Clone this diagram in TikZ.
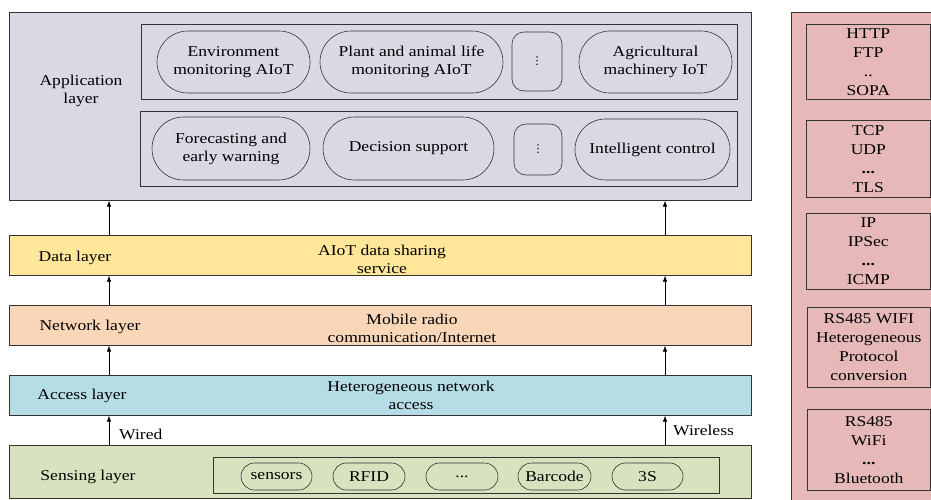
\documentclass[tikz,border=0pt]{standalone}
\usepackage{fontspec}
\setmainfont{Liberation Serif}[FakeStretch=1.17]
\newfontfamily\dejavu{DejaVu Sans}
\usetikzlibrary{shapes.misc,arrows.meta}
\definecolor{appc}{HTML}{DCD7E5}
\definecolor{datac}{HTML}{FFE699}
\definecolor{netc}{HTML}{FAD6B8}
\definecolor{accc}{HTML}{B6DCE6}
\definecolor{senc}{HTML}{D7E3BE}
\definecolor{protc}{HTML}{E6B9B8}
\definecolor{linec}{HTML}{333333}
\begin{document}
\begin{tikzpicture}[x=1pt,y=-1pt,
  every node/.style={font=\fontsize{15}{18}\selectfont, inner sep=0pt, text=black},
  box/.style={draw=linec, line width=0.7pt, rectangle, anchor=north west},
  pill/.style={draw=linec, line width=0.6pt, rounded rectangle, rounded rectangle arc length=180, align=center},
  dotbox/.style={draw=linec, line width=0.6pt, rectangle, rounded corners=12pt, font=\dejavu\fontsize{11}{12}\selectfont},
  protbox/.style={draw=linec, line width=0.6pt, rectangle, anchor=north west, align=center,
                  font=\fontsize{15}{19}\selectfont},
  lbl/.style={align=center},
  arr/.style={-{Latex[length=6pt,width=4.5pt]}, line width=0.6pt, draw=black}]
\useasboundingbox (0,0) rectangle (931,499);
\fill[white] (0,0) rectangle (931,499);
\clip (0,0) rectangle (931,499);

% ---------- Application layer ----------
\node[box, fill=appc, minimum width=742pt, minimum height=188pt] (app) at (9,12) {};
\node[lbl] (applbl) at (81,91) {Application\\layer};
\node[box, minimum width=596pt, minimum height=75pt] (row1) at (141,24) {};
\node[box, minimum width=597pt, minimum height=75pt] (row2) at (140,111) {};

\node[pill, minimum width=153pt, minimum height=62pt] (env) at (233.5,62) {Environment\\monitoring AIoT};
\node[pill, minimum width=183pt, minimum height=62pt] (plant) at (411.5,62) {Plant and animal life\\monitoring AIoT};
\node[dotbox, minimum width=50pt, minimum height=59pt] (dots1) at (537,61.5) {⋮};
\node[pill, minimum width=153pt, minimum height=62pt] (agri) at (655.5,62) {Agricultural\\machinery IoT};

\node[pill, minimum width=158pt, minimum height=63pt] (fore) at (231,148.5) {Forecasting and\\early warning};
\node[pill, minimum width=171pt, minimum height=63pt] (deci) at (408.5,148.5) {Decision support};
\node[dotbox, minimum width=48pt, minimum height=51pt] (dots2) at (538,149.5) {⋮};
\node[pill, minimum width=155pt, minimum height=61pt] (intel) at (652.5,149.5) {Intelligent control};

% ---------- Data layer ----------
\node[box, fill=datac, minimum width=742pt, minimum height=40pt] (data) at (9,235) {};
\node[lbl] (datalbl) at (75,258) {Data layer};
\node[lbl] (datatxt) at (382,259) {AIoT data sharing\\service};

% ---------- Network layer ----------
\node[box, fill=netc, minimum width=742pt, minimum height=40pt] (net) at (9,305) {};
\node[lbl] (netlbl) at (90,327) {Network layer};
\node[lbl] (nettxt) at (412,328) {Mobile radio\\communication/Internet};

% ---------- Access layer ----------
\node[box, fill=accc, minimum width=742pt, minimum height=40pt] (acc) at (9,375) {};
\node[lbl] (acclbl) at (82,396) {Access layer};
\node[lbl] (acctxt) at (411,395) {Heterogeneous network\\access};

% ---------- Sensing layer ----------
\node[box, fill=senc, minimum width=742pt, minimum height=53pt] (sen) at (9,445) {};
\node[lbl] (senlbl) at (88,477) {Sensing layer};
\node[box, minimum width=506pt, minimum height=36pt] (senrow) at (213,457) {};
\node[pill, minimum width=71pt, minimum height=27pt] (s1) at (276.5,476.5) {sensors};
\node[pill, minimum width=72pt, minimum height=27pt] (s2) at (369,476.5) {RFID};
\node[pill, minimum width=72pt, minimum height=27pt] (s3) at (462,476.5) {...};
\node[pill, minimum width=73pt, minimum height=27pt] (s4) at (554.5,476.5) {Barcode};
\node[pill, minimum width=71pt, minimum height=27pt] (s5) at (647.5,476.5) {3S};

% ---------- arrows ----------
\coordinate (cl) at (109,0);
\coordinate (cr) at (665,0);
\draw[arr] (data.north -| cl) -- (app.south -| cl);
\draw[arr] (data.north -| cr) -- (app.south -| cr);
\draw[arr] (net.north -| cl) -- (data.south -| cl);
\draw[arr] (net.north -| cr) -- (data.south -| cr);
\draw[arr] (acc.north -| cl) -- (net.south -| cl);
\draw[arr] (acc.north -| cr) -- (net.south -| cr);
\draw[arr] (sen.north -| cl) -- (acc.south -| cl);
\draw[arr] (sen.north -| cr) -- (acc.south -| cr);
\node[anchor=west] (wired) at (119,434) {Wired};
\node[anchor=west] (wireless) at (673,430) {Wireless};

% ---------- protocol panel ----------
\node[box, fill=protc, minimum width=160pt, minimum height=500pt] (prot) at (791,12) {};
\node[protbox, minimum width=124pt, minimum height=75pt] (p1) at (806,24) {HTTP\\FTP\\..\\SOPA};
\node[protbox, minimum width=124pt, minimum height=77pt] (p2) at (806,120) {TCP\\UDP\\\textbf{...}\\TLS};
\node[protbox, minimum width=124pt, minimum height=76pt] (p3) at (806,213) {IP\\IPSec\\\textbf{...}\\ICMP};
\node[protbox, minimum width=123pt, minimum height=80pt] (p4) at (807,307) {RS485 WIFI\\Heterogeneous\\Protocol\\conversion};
\node[protbox, minimum width=123pt, minimum height=81pt] (p5) at (807,409) {RS485\\WiFi\\\textbf{...}\\Bluetooth};
\end{tikzpicture}
\end{document}
